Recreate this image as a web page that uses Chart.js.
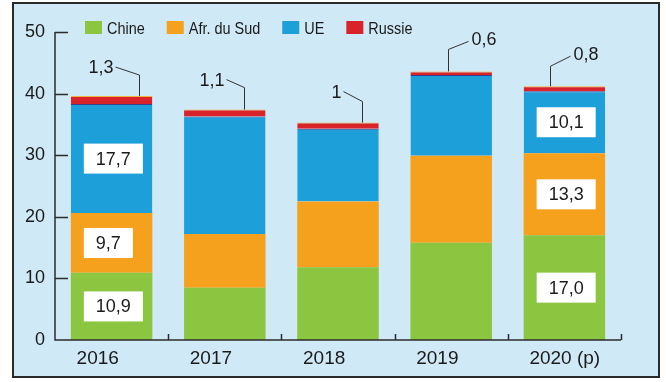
<!DOCTYPE html>
<html>
<head>
<meta charset="utf-8">
<script src="https://cdn.jsdelivr.net/npm/chart.js@4"></script>
<style>
  html, body { margin: 0; padding: 0; background: #ffffff; }
  canvas { display: block; }
</style>
</head>
<body>
<canvas id="chart" width="666" height="382"></canvas>
<script>
// Importations (Mt) par origine, empilées par année
const years = ['2016', '2017', '2018', '2019', '2020 (p)'];
const chine = [10.9, 8.5, 11.8, 15.8, 17.0];
const afrSud = [9.7, 8.7, 10.7, 14.1, 13.3];
const ue = [17.7, 19.1, 11.8, 13.1, 10.1];
const russie = [1.3, 1.1, 1, 0.6, 0.8];
const yTicks = [0, 10, 20, 30, 40, 50];

// années dont les segments portent une étiquette encadrée
const boxedYears = [true, false, false, false, true];

// géométrie des traits de rappel vers les étiquettes Russie
const leaders = [
    { off: 27, rise: 21, dx: -24, dy: -8 },
    { off: 19, rise: 22, dx: -18, dy: -8 },
    { off: 24, rise: 21, dx: -19, dy: -10 },
    { off: -3, rise: 22, dx: 20, dy: -8 },
    { off: -14, rise: 20, dx: 20, dy: -10 }
];

const colors = {
    chine: '#8cc540',
    afrSud: '#f6a11e',
    ue: '#1d9fd9',
    russie: '#d8232b'
};

const FONT = '"Liberation Sans", Arial, sans-serif';

function fr(v, fixed) {
    return (fixed ? v.toFixed(1) : String(v)).replace('.', ',');
}

const decorPlugin = {
    id: 'decor',
    beforeDraw(chart) {
        const ctx = chart.ctx;
        ctx.save();
        ctx.fillStyle = '#d0e9f6';
        ctx.fillRect(13, 3, 646, 374);
        ctx.strokeStyle = '#2b2b2b';
        ctx.lineWidth = 2;
        ctx.strokeRect(13, 3, 646, 374);
        ctx.restore();
    },
    afterDatasetsDraw(chart) {
        const ctx = chart.ctx;
        const area = chart.chartArea;
        const y = chart.scales.y;
        ctx.save();

        // axes + graduations tournées vers l'intérieur
        ctx.strokeStyle = '#2b2b2b';
        ctx.lineWidth = 1.5;
        ctx.beginPath();
        ctx.moveTo(area.left, area.top);
        ctx.lineTo(area.left, area.bottom);
        ctx.lineTo(area.right, area.bottom);
        yTicks.forEach(v => {
            if (v === 0) return;
            const py = Math.round(y.getPixelForValue(v)) + 0.5;
            ctx.moveTo(area.left, py);
            ctx.lineTo(area.left + 13, py);
        });
        const step = (area.right - area.left) / years.length;
        for (let i = 1; i <= years.length; i++) {
            const px = Math.round(area.left + step * i) + 0.5;
            ctx.moveTo(px, area.bottom);
            ctx.lineTo(px, area.bottom - 6);
        }
        ctx.stroke();

        // étiquettes encadrées
        ctx.font = '18px ' + FONT;
        ctx.textBaseline = 'middle';
        ctx.textAlign = 'center';
        [chine, afrSud, ue].forEach((series, d) => {
            const meta = chart.getDatasetMeta(d);
            series.forEach((v, i) => {
                if (!boxedYears[i]) return;
                const bar = meta.data[i];
                const txt = fr(v, true);
                const w = ctx.measureText(txt).width + 24;
                const left = bar.x - bar.width / 2 + 13;
                const cy = (bar.y + bar.base) / 2;
                ctx.fillStyle = '#ffffff';
                ctx.fillRect(left, cy - 15, w, 30);
                ctx.fillStyle = '#1a1a1a';
                ctx.fillText(txt, left + w / 2, cy + 1);
            });
        });

        // étiquettes Russie avec traits de rappel
        const rMeta = chart.getDatasetMeta(3);
        ctx.font = '18px ' + FONT;
        ctx.strokeStyle = '#333333';
        ctx.lineWidth = 1;
        russie.forEach((v, i) => {
            const bar = rMeta.data[i];
            const l = leaders[i];
            const vx = Math.round(bar.x + l.off) + 0.5;
            const top = bar.y;
            const ky = top - l.rise;
            const ex = vx + l.dx;
            const ey = ky + l.dy;
            ctx.beginPath();
            ctx.moveTo(vx, top);
            ctx.lineTo(vx, ky);
            ctx.lineTo(ex, ey);
            ctx.stroke();
            ctx.fillStyle = '#1a1a1a';
            if (l.dx < 0) {
                ctx.textAlign = 'right';
                ctx.fillText(fr(v, false), ex - 2, ey + 1);
            } else {
                ctx.textAlign = 'left';
                ctx.fillText(fr(v, false), ex + 3, ey - 1);
            }
        });

        // légende (texte resserré horizontalement)
        const squeeze = 0.85;
        ctx.font = '17px ' + FONT;
        ctx.textAlign = 'left';
        ctx.textBaseline = 'alphabetic';
        let lx = 85;
        chart.data.datasets.forEach(ds => {
            ctx.fillStyle = ds.backgroundColor;
            ctx.fillRect(lx, 21, 17, 13);
            ctx.fillStyle = '#1a1a1a';
            const tx = lx + 22;
            ctx.save();
            ctx.translate(tx, 34);
            ctx.scale(squeeze, 1);
            ctx.fillText(ds.label, 0, 0);
            ctx.restore();
            lx = tx + ctx.measureText(ds.label).width * squeeze + 22;
        });

        ctx.restore();
    }
};

new Chart(document.getElementById('chart'), {
    type: 'bar',
    data: {
        labels: years,
        datasets: [
            { label: 'Chine', data: chine, backgroundColor: colors.chine },
            { label: 'Afr. du Sud', data: afrSud, backgroundColor: colors.afrSud },
            {
                label: 'UE', data: ue, backgroundColor: colors.ue,
                borderColor: '#3b3f8c', borderWidth: { top: 1, left: 0, right: 0, bottom: 0 }
            },
            {
                label: 'Russie', data: russie, backgroundColor: colors.russie,
                borderColor: '#f2b13f', borderWidth: { top: 1, left: 0, right: 0, bottom: 0 }
            }
        ]
    },
    options: {
        responsive: false,
        animation: false,
        devicePixelRatio: 1,
        layout: { padding: { top: 32, right: 45, bottom: 0, left: 0 } },
        datasets: { bar: { categoryPercentage: 1, barPercentage: 0.72, borderSkipped: false } },
        plugins: {
            legend: { display: false },
            tooltip: { enabled: false }
        },
        scales: {
            x: {
                stacked: true,
                grid: { display: false, drawTicks: false },
                border: { display: false },
                ticks: {
                    color: '#1a1a1a', font: { family: FONT, size: 19 }, padding: 7,
                    maxRotation: 0, align: 'start', labelOffset: -35
                },
                afterFit(scale) { scale.height = 42; }
            },
            y: {
                stacked: true,
                min: 0,
                max: 50,
                grid: { display: false, drawTicks: false },
                border: { display: false },
                afterBuildTicks(scale) { scale.ticks = yTicks.map(v => ({ value: v })); },
                ticks: { color: '#1a1a1a', font: { family: FONT, size: 18 }, padding: 10 },
                afterFit(scale) { scale.width = 55; }
            }
        }
    },
    plugins: [decorPlugin]
});
</script>
</body>
</html>
